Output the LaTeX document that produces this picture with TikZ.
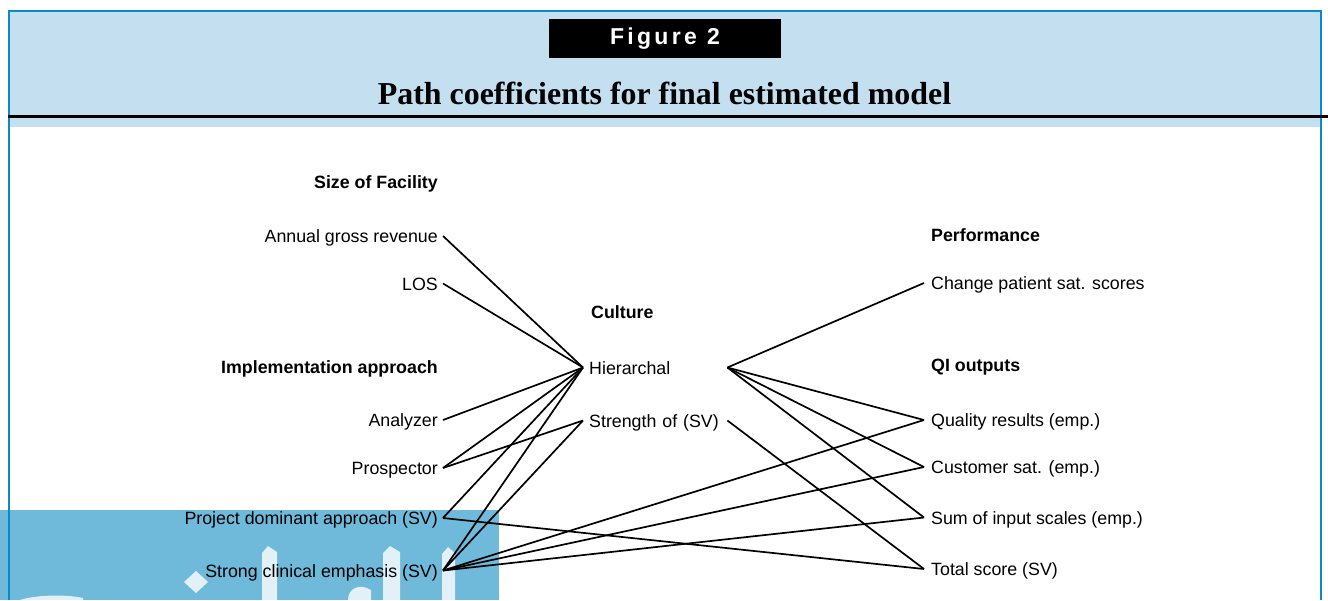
\documentclass[tikz,border=0pt]{standalone}
\usepackage{fontspec}
\setmainfont{Liberation Sans}
\newfontfamily\titlefont{Liberation Serif}
\definecolor{hdrfill}{HTML}{C3DFF0}
\definecolor{frameblue}{HTML}{0A8AC8}
\definecolor{wmblue}{HTML}{6FB9DA}
\begin{document}
\begin{tikzpicture}[x=1pt,y=-1pt,
  lbl/.style={inner ysep=0pt, text height=13pt, text depth=0pt, font=\fontsize{17.8}{20}\selectfont},
  hd/.style={lbl, font=\fontsize{17.8}{20}\selectfont\bfseries},
  lft/.style={lbl, anchor=east, inner xsep=5pt},
  mid/.style={lbl, anchor=west, inner xsep=6pt, text width=132pt, align=left},
  rgt/.style={lbl, anchor=west, inner xsep=7pt},
  conn/.style={line width=1.7pt, line join=round}]
\useasboundingbox (0,0) rectangle (1328,600);
\fill[white] (0,0) rectangle (1328,600);
% header band
\fill[hdrfill] (9,11) rectangle (1320,127);
\draw[frameblue, line width=2pt] (8.5,600) -- (8.5,11) -- (1321,11) -- (1321,600);
\draw[black, line width=3.3pt] (8,116.7) -- (1328,116.7);
% figure label
\node[fill=black, minimum width=232pt, minimum height=38.5pt, inner sep=0pt, text=white,
      font=\fontsize{23}{25}\selectfont\bfseries] (figlbl) at (665,38.3)
  {F\kern3.3pt i\kern3.3pt g\kern3.3pt u\kern3.3pt r\kern3.3pt e\kern2pt\ \kern2pt 2};
\node[anchor=base, inner sep=0pt, font=\titlefont\fontsize{31.9}{34}\selectfont\bfseries] (title) at (664.5,104.5)
  {Path coefficients for final estimated model};
% watermark block
\fill[wmblue] (0,509.5) rectangle (498.5,600);
\draw[frameblue, line width=2pt] (8.5,509.5) -- (8.5,600);
\begin{scope}[white, opacity=0.8]
  \fill (262,600) -- (262,553) -- (268,546) -- (277,552) -- (277,600) -- cycle;
  \fill (383,600) -- (383,553) -- (390,546) -- (400,552) -- (400,600) -- cycle;
  \fill (442,600) -- (442,554) -- (448,547) -- (455,553) -- (455,600) -- cycle;
  \fill (196,571) -- (208,582) -- (196,593) -- (184,582) -- cycle;
  \fill (348,600) .. controls (348,588) and (360,583) .. (371,590) -- (371,600) -- cycle;
  \fill (20,600) .. controls (35,595) and (65,594) .. (83,598) -- (83,600) -- cycle;
\end{scope}
% headers
\node[hd, anchor=east, inner xsep=0pt] (hsize) at (438,181.5) {Size of Facility};
\node[hd, anchor=east, inner xsep=0pt] (himpl) at (438,366.5) {Implementation approach};
\node[hd, anchor=west, inner xsep=0pt] (hcult) at (591,311.5) {Culture};
\node[hd, anchor=west, inner xsep=0pt] (hperf) at (931,235) {Performance};
\node[hd, anchor=west, inner xsep=0pt] (hqi) at (931,365) {QI outputs};
% left column
\node[lft] (agr) at (443,236) {Annual gross revenue};
\node[lft] (los) at (443,283.5) {LOS};
\node[lft] (ana) at (443,420) {Analyzer};
\node[lft] (pro) at (443,468) {Prospector};
\node[lft] (pda) at (443,518) {Project dominant approach (SV)};
\node[lft] (sce) at (443,570.5) {Strong clinical emphasis (SV)};
% middle column
\node[mid] (hier) at (583,367.5) {Hierarchal};
\node[mid] (stre) at (583,420.5) {Strength of (SV)};
% right column
\node[rgt] (cps) at (924,283) {Change patient sat. scores};
\node[rgt] (qr) at (924,420) {Quality results (emp.)};
\node[rgt] (cs) at (924,467) {Customer sat. (emp.)};
\node[rgt] (sis) at (924,517.5) {Sum of input scales (emp.)};
\node[rgt] (ts) at (924,569) {Total score (SV)};
% connectors
\draw[conn] (agr.east) -- (hier.west);
\draw[conn] (los.east) -- (hier.west);
\draw[conn] (ana.east) -- (hier.west);
\draw[conn] (pro.east) -- (hier.west);
\draw[conn] (pro.east) -- (stre.west);
\draw[conn] (pda.east) -- (hier.west);
\draw[conn] (pda.east) -- (ts.west);
\draw[conn] (sce.east) -- (hier.west);
\draw[conn] (sce.east) -- (stre.west);
\draw[conn] (sce.east) -- (qr.west);
\draw[conn] (sce.east) -- (cs.west);
\draw[conn] (sce.east) -- (sis.west);
\draw[conn] (hier.east) -- (cps.west);
\draw[conn] (hier.east) -- (qr.west);
\draw[conn] (hier.east) -- (cs.west);
\draw[conn] (hier.east) -- (sis.west);
\draw[conn] (stre.east) -- (ts.west);
\end{tikzpicture}
\end{document}
